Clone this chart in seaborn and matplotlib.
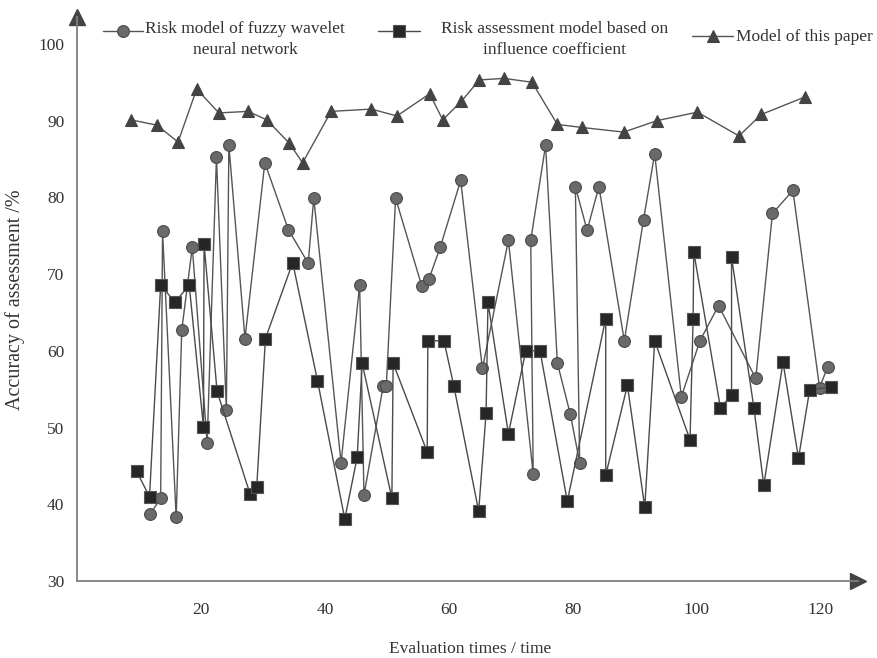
import numpy as np
import pandas as pd
import seaborn as sns
import matplotlib.pyplot as plt
from matplotlib.lines import Line2D

# Risk model of fuzzy wavelet neural network (circles), in drawing order
wavelet_x = [11.8, 13.5, 13.8, 16.0, 16.9, 18.6, 21.0, 22.5, 24.1, 24.5, 27.1, 30.3,
             34.1, 37.3, 38.2, 42.6, 45.6, 46.3, 49.4, 49.9, 51.4, 55.6, 56.8, 58.6,
             61.9, 65.4, 69.6, 73.6, 73.2, 75.6, 77.5, 79.6, 81.1, 80.4, 82.3, 84.2,
             88.3, 91.4, 93.2, 97.5, 100.5, 103.5, 109.5, 112.2, 115.5, 119.8, 121.1]
wavelet_y = [38.7, 40.8, 75.6, 38.3, 62.7, 73.5, 48.0, 85.2, 52.3, 86.8, 61.6, 84.5,
             75.8, 71.4, 79.9, 45.4, 68.6, 41.2, 55.4, 55.4, 79.9, 68.5, 69.4, 73.5,
             82.2, 57.7, 74.4, 43.9, 74.4, 86.8, 58.4, 51.7, 45.4, 81.4, 75.7, 81.4,
             61.3, 77.1, 85.7, 54.0, 61.3, 65.9, 56.4, 77.9, 80.9, 55.2, 57.9]

# Risk assessment model based on influence coefficient (squares)
coef_x = [9.6, 11.7, 13.5, 15.8, 18.1, 20.4, 20.5, 22.6, 27.9, 29.0, 30.4, 34.8,
          38.8, 43.2, 45.2, 46.0, 50.8, 51.0, 56.5, 56.6, 59.2, 60.8, 64.8, 66.0,
          66.3, 69.6, 72.4, 74.7, 79.1, 85.3, 85.3, 88.8, 91.6, 93.2, 98.9, 99.4,
          99.5, 103.8, 105.6, 105.6, 109.2, 110.8, 113.9, 116.4, 118.2, 121.7]
coef_y = [44.3, 41.0, 68.6, 66.3, 68.6, 50.1, 73.9, 54.7, 41.4, 42.3, 61.6, 71.5,
          56.1, 38.1, 46.1, 58.4, 40.8, 58.4, 46.8, 61.3, 61.3, 55.4, 39.1, 51.9,
          66.3, 49.2, 60.0, 60.0, 40.4, 64.2, 43.8, 55.5, 39.6, 61.3, 48.4, 64.2,
          72.9, 52.6, 54.2, 72.2, 52.6, 42.5, 58.5, 46.0, 54.9, 55.3]

# Model of this paper (triangles)
paper_x = [8.7, 12.9, 16.3, 19.3, 22.9, 27.6, 30.6, 34.2, 36.4, 41.0, 47.5, 51.6,
           56.9, 59.0, 62.0, 64.9, 68.9, 73.4, 77.5, 81.5, 88.2, 93.6, 100.1, 106.8,
           110.4, 117.5]
paper_y = [90.1, 89.4, 87.2, 94.1, 91.0, 91.2, 90.1, 87.1, 84.5, 91.2, 91.5, 90.6,
           93.5, 90.1, 92.5, 95.3, 95.5, 95.0, 89.5, 89.1, 88.5, 90.0, 91.1, 88.0,
           90.8, 93.1]

x_ticks = [20, 40, 60, 80, 100, 120]
y_ticks = [30, 40, 50, 60, 70, 80, 90, 100]
legend_labels = ['Risk model of fuzzy wavelet\nneural network',
                 'Risk assessment model based on\ninfluence coefficient',
                 'Model of this paper']

sns.set_style('white')
plt.rcParams['font.family'] = ['Liberation Serif', 'DejaVu Serif']

W, H = 878, 658
fig = plt.figure(figsize=(W / 100, H / 100), dpi=100)
ax = fig.add_axes([77 / W, 77 / H, 781 / W, 564 / H])

styles = [
    (wavelet_x, wavelet_y, dict(marker='o', ms=8.5, mfc='#6a6a6a', mec='#4a4a4a', color='#555555')),
    (coef_x, coef_y, dict(marker='s', ms=9, mfc='#262626', mec='#555555', color='#4a4a4a')),
    (paper_x, paper_y, dict(marker='^', ms=9, mfc='#444444', mec='#444444', color='#555555')),
]
for xs, ys, kw in styles:
    sns.lineplot(x=xs, y=ys, sort=False, estimator=None, ax=ax, lw=1.0,
                 mew=0.8, legend=False, **kw)

ax.set_xlim(0, 126)
ax.set_ylim(30, 103.5)
ax.set_xticks(x_ticks)
ax.set_yticks(y_ticks)

for side in ['top', 'right']:
    ax.spines[side].set_visible(False)
for side in ['left', 'bottom']:
    ax.spines[side].set_color('#808080')
    ax.spines[side].set_linewidth(1.3)

ax.tick_params(axis='x', direction='in', length=13, width=1, color='#666666',
               pad=15, labelsize=12.5, labelcolor='#333333')
ax.tick_params(axis='y', direction='in', length=14.5, width=1, color='#666666',
               pad=9, labelsize=12.5, labelcolor='#333333')

# arrow heads on the axes
ax.plot(1, 0, marker='>', ms=11, color='#444444', transform=ax.transAxes, clip_on=False)
ax.plot(0, 1, marker='^', ms=11, color='#444444', transform=ax.transAxes, clip_on=False)

ax.set_xlabel('Evaluation times / time', fontsize=12.5, color='#333333')
ax.set_ylabel('Accuracy of assessment /%', fontsize=14.5, color='#333333')
ax.xaxis.set_label_coords(0.503, -0.107)
ax.yaxis.set_label_coords(-0.066, 0.498)

# legend laid out like the original, handle beside first line of each label
handle_pos = [(103, 143, 31), (378, 420, 31), (692, 733, 36)]
text_pos = [(245, 'center', 54), (555, 'center', 54), (736, 'left', 41)]
for (x0, x1, hy), (tx, ha, ty), (_, _, kw), lab in zip(handle_pos, text_pos, styles, legend_labels):
    yy = 1 - hy / H
    fig.add_artist(Line2D([x0 / W, (x0 + x1) / 2 / W, x1 / W], [yy, yy, yy],
                          transform=fig.transFigure, lw=1.0, markevery=[1], mew=0.8, **kw))
    fig.text(tx / W, 1 - ty / H, lab, ha=ha, va='baseline', multialignment='center',
             fontsize=12.5, color='#333333', linespacing=1.4)

fig.savefig('out.png', dpi=100)
